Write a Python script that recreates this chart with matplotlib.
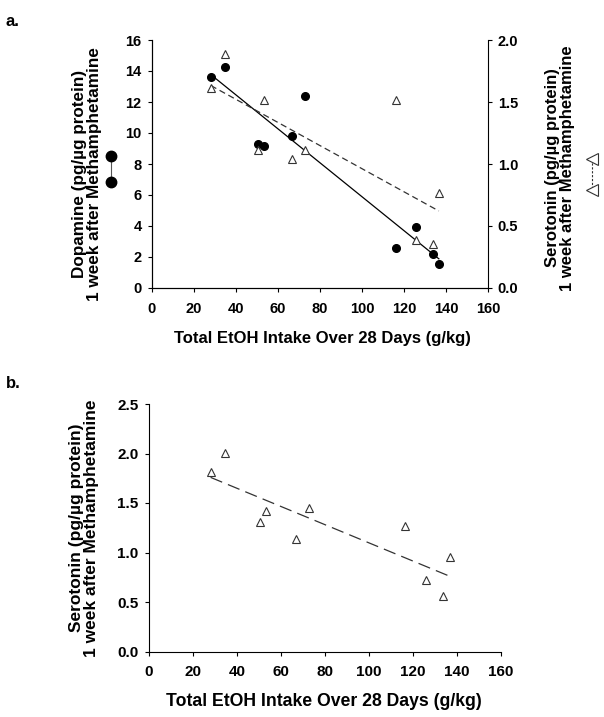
import numpy as np
import matplotlib
matplotlib.use("Agg")
import matplotlib.pyplot as plt
from matplotlib.lines import Line2D

plt.rcParams['font.family'] = ['Liberation Sans', 'DejaVu Sans']
plt.rcParams['font.weight'] = 'bold'

# total EtOH intake (g/kg) per animal
intake = [28.0, 34.7, 50.3, 53.4, 66.6, 72.8, 116.4, 125.8, 133.6, 136.6]
# panel a
dopamine_a = [13.63, 14.24, 9.27, 9.14, 9.81, 12.41, 2.58, 3.96, 2.17, 1.57]
serotonin_a = [1.61, 1.89, 1.11, 1.52, 1.04, 1.11, 1.52, 0.39, 0.355, 0.77]
# panel b
serotonin_b = [1.81, 2.01, 1.31, 1.42, 1.14, 1.45, 1.265, 0.725, 0.557, 0.955]

xticks = [0, 20, 40, 60, 80, 100, 120, 140, 160]
da_ticks = [0, 2, 4, 6, 8, 10, 12, 14, 16]
ht_ticks_a = [0.0, 0.5, 1.0, 1.5, 2.0]
ht_ticks_b = [0.0, 0.5, 1.0, 1.5, 2.0, 2.5]

xlab = "Total EtOH Intake Over 28 Days (g/kg)"
W, H = 604, 717


def fit(x, y):
    k, b = np.polyfit(x, y, 1)
    xx = np.array([min(x), max(x)])
    return xx, k * xx + b


fig = plt.figure(figsize=(W / 100, H / 100), dpi=100)

# ---------------- panel a
ax = fig.add_axes([152 / W, 1 - 288 / H, 336 / W, 248 / H])
ax2 = ax.twinx()
ax.plot(intake, dopamine_a, 'o', color='black', ms=5.5, zorder=3)
xx, yy = fit(intake, dopamine_a)
ax.plot(xx, yy, '-', color='black', lw=0.9)
ax2.plot(intake, serotonin_a, '^', mfc='white', mec='#333333', mew=0.8, ms=5.5, zorder=3)
xx, yy = fit(intake, serotonin_a)
ax2.plot(xx, yy, '--', color='#333333', lw=0.9, dashes=(5, 3))

ax.set_xlim(0, 160)
ax.set_ylim(0, 16)
ax2.set_ylim(0, 2)
ax.set_xticks(xticks)
ax.set_yticks(da_ticks)
ax2.set_yticks(ht_ticks_a)
ax2.set_yticklabels(['%.1f' % v for v in ht_ticks_a])
for a in (ax, ax2):
    a.spines['top'].set_visible(False)
ax.spines['right'].set_visible(False)
ax.tick_params(axis='x', direction='out', length=3, pad=7, labelsize=10.5)
ax.tick_params(axis='y', direction='out', length=3, pad=4.5, labelsize=10.5)
ax2.tick_params(axis='y', direction='out', length=3, pad=4, labelsize=10.5)

fig.text(322 / W, 1 - 338 / H, xlab, ha='center', va='center', fontsize=12, fontweight='bold')
fig.text(87 / W, 1 - 174 / H, "Dopamine (pg/\u00b5g protein)\n1 week after Methamphetamine",
         rotation=90, ha='center', va='center', multialignment='center',
         fontsize=12.3, fontweight='bold', linespacing=1.05)
fig.text(560 / W, 1 - 168 / H, "Serotonin (pg/\u00b5g protein)\n1 week after Methamphetamine",
         rotation=90, ha='center', va='center', multialignment='center',
         fontsize=12, fontweight='bold', linespacing=1.05)

# symbol keys next to axis labels
fig.add_artist(Line2D([111 / W, 111 / W], [1 - 156 / H, 1 - 182 / H], transform=fig.transFigure,
                      color='#555555', lw=0.8, marker='o', ms=7.5, mfc='black', mec='black'))
fig.add_artist(Line2D([592 / W, 592 / W], [1 - 159 / H, 1 - 190 / H], transform=fig.transFigure,
                      color='#333333', lw=0.8, ls=(0, (2, 1.5)), marker='<', ms=8,
                      mfc='white', mec='#333333', mew=0.8))

fig.text(6 / W, 1 - 22 / H, "a.", ha='left', va='center', fontsize=12, fontweight='bold')

# ---------------- panel b
bx = fig.add_axes([149 / W, 1 - 651.5 / H, 352 / W, 247.5 / H])
bx.plot(intake, serotonin_b, '^', mfc='white', mec='#333333', mew=0.8, ms=5.5, zorder=3)
xx, yy = fit(intake, serotonin_b)
bx.plot(xx, yy, '--', color='#333333', lw=0.9, dashes=(10, 5))
bx.set_xlim(0, 160)
bx.set_ylim(0, 2.5)
bx.set_xticks(xticks)
bx.set_yticks(ht_ticks_b)
bx.set_yticklabels(['%.1f' % v for v in ht_ticks_b])
bx.spines['top'].set_visible(False)
bx.spines['right'].set_visible(False)
bx.tick_params(axis='x', direction='out', length=3, pad=7, labelsize=11)
bx.tick_params(axis='y', direction='out', length=3, pad=4.5, labelsize=11)

fig.text(324 / W, 1 - 702 / H, xlab, ha='center', va='center', fontsize=12.7, fontweight='bold')
fig.text(84 / W, 1 - 528 / H, "Serotonin (pg/\u00b5g protein)\n1 week after Methamphetamine",
         rotation=90, ha='center', va='center', multialignment='center',
         fontsize=12.5, fontweight='bold', linespacing=1.05)
fig.text(6 / W, 1 - 383 / H, "b.", ha='left', va='center', fontsize=12, fontweight='bold')

fig.savefig("out.png", dpi=100)
